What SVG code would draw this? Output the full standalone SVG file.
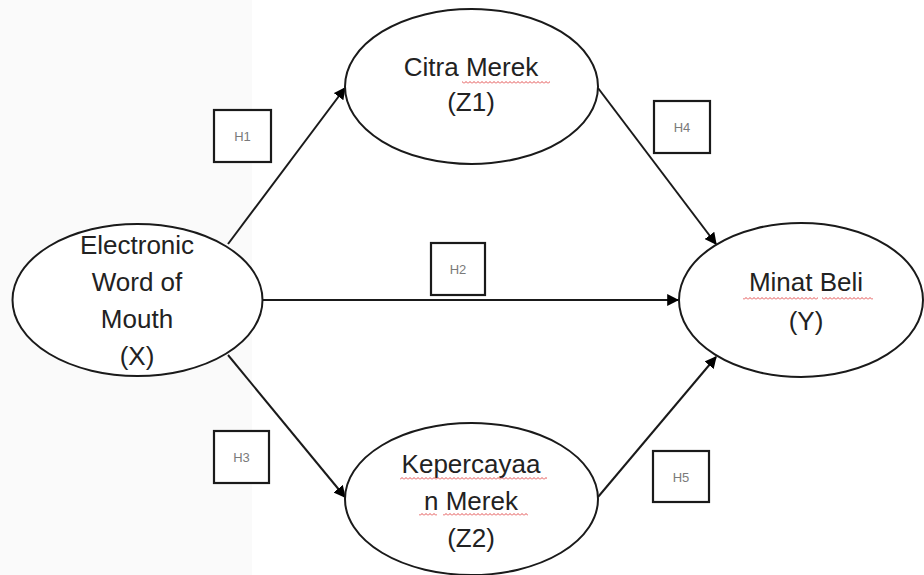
<svg xmlns="http://www.w3.org/2000/svg" width="924" height="575" viewBox="0 0 924 575">
<style>
.node ellipse{fill:#fff;stroke:#1a1a1a;stroke-width:2}
.lbl{font-family:"Liberation Sans",Arial,sans-serif;font-size:26px;fill:#222;text-anchor:middle}
.hbox rect{fill:#fff;stroke:#1a1a1a;stroke-width:2.2}
.hbox text{font-family:"Liberation Sans",Arial,sans-serif;font-size:13px;fill:#7a7a7a;text-anchor:middle}
.conn line{stroke:#1a1a1a;stroke-width:2;marker-end:url(#arr)}
</style>
<defs>
<marker id="arr" viewBox="0 0 10 10" refX="9" refY="5" markerWidth="6" markerHeight="6" orient="auto" markerUnits="strokeWidth">
<path d="M0,0 L10,5 L0,10 z" fill="#000"/>
</marker>
<pattern id="sq" width="4" height="3" patternUnits="userSpaceOnUse">
<path d="M0,2.5 L2,0.5 L4,2.5" fill="none" stroke="#e03c3c" stroke-width="0.9"/>
</pattern>
</defs>
<rect x="0" y="0" width="924" height="575" fill="#fff"/>
<rect x="0" y="0" width="252" height="575" fill="#fafafa"/>
<g class="conn" id="connectors">
<line x1="228" y1="244" x2="345" y2="88"/>
<line x1="263" y1="300" x2="678" y2="300"/>
<line x1="228" y1="355" x2="345" y2="497"/>
<line x1="598" y1="88" x2="716" y2="244"/>
<line x1="598" y1="497" x2="716" y2="357"/>
</g>
<g class="node" id="nodeX">
<ellipse cx="137.5" cy="300" rx="125" ry="76"/>
<text class="lbl" x="137" y="254">Electronic</text>
<text class="lbl" x="137" y="291">Word of</text>
<text class="lbl" x="137" y="328">Mouth</text>
<text class="lbl" x="137" y="365">(X)</text>
</g>
<g class="node" id="nodeZ1">
<ellipse cx="471.5" cy="86.5" rx="126.5" ry="77.5"/>
<text class="lbl" x="471" y="76">Citra Merek</text>
<text class="lbl" x="471" y="111">(Z1)</text>
<rect x="462" y="81" width="88" height="3" fill="url(#sq)"/>
</g>
<g class="node" id="nodeY">
<ellipse cx="801" cy="300" rx="122" ry="77"/>
<text class="lbl" x="806" y="291">Minat Beli</text>
<text class="lbl" x="806" y="330">(Y)</text>
<rect x="743" y="297" width="75" height="3" fill="url(#sq)"/>
<rect x="822" y="297" width="51" height="3" fill="url(#sq)"/>
</g>
<g class="node" id="nodeZ2">
<ellipse cx="471.5" cy="499" rx="126.5" ry="76"/>
<text class="lbl" x="471" y="473">Kepercayaa</text>
<text class="lbl" x="471" y="510">n Merek</text>
<text class="lbl" x="471" y="547">(Z2)</text>
<rect x="400" y="477" width="147" height="3" fill="url(#sq)"/>
<rect x="419" y="513" width="18" height="3" fill="url(#sq)"/>
<rect x="443" y="513" width="85" height="3" fill="url(#sq)"/>
</g>
<g class="hbox" id="H1"><rect x="214" y="110" width="57" height="52"/><text x="242.5" y="141">H1</text></g>
<g class="hbox" id="H2"><rect x="431" y="243" width="54" height="52"/><text x="458" y="274">H2</text></g>
<g class="hbox" id="H3"><rect x="214" y="431" width="55" height="52"/><text x="241.5" y="462">H3</text></g>
<g class="hbox" id="H4"><rect x="654" y="101" width="56" height="52"/><text x="682" y="132">H4</text></g>
<g class="hbox" id="H5"><rect x="653" y="451" width="56" height="51"/><text x="681" y="482">H5</text></g>
</svg>
